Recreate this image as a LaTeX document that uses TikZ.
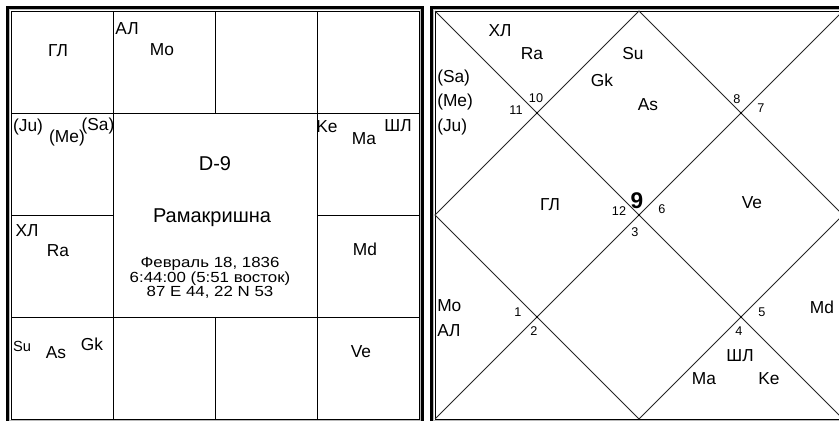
\documentclass[tikz,border=0pt]{standalone}
\usepackage{fontspec}
\setmainfont{Liberation Sans}
\newfontfamily\widesans{Liberation Sans}[FakeStretch=1.15]
\usetikzlibrary{positioning, calc}

\begin{document}
\begin{tikzpicture}[
    x=0.75pt, y=-0.75pt,
    every node/.style={inner sep=0pt, align=center},
    pl/.style={font=\fontsize{13}{15}\selectfont},
    plsm/.style={font=\fontsize{11}{13}\selectfont},
    hnum/.style={font=\fontsize{9.5}{11}\selectfont},
    title/.style={font=\fontsize{15}{18}\selectfont},
    info/.style={font=\widesans\fontsize{11}{10.2}\selectfont},
    outframe/.style={line width=2pt},
    midframe/.style={gray!55, line width=1pt},
    gridline/.style={line width=0.75pt},
    diagline/.style={line width=0.75pt, black!85}
]
    \clip (0,0) rectangle (839,421);
    \fill[white] (0,0) rectangle (839,421);

    % Left chart: D-9 square
    \coordinate (a1) at (11,11);
    \coordinate (a2) at (419,419);
    \draw[outframe] ($(a1)+(-3.3,-3.3)$) rectangle ($(a2)+(3.3,3.3)$);
    \draw[midframe] ($(a1)+(-1.4,-1.4)$) rectangle ($(a2)+(1.4,1.4)$);
    \draw[gridline] (a1) rectangle (a2);
    \foreach \k in {113,317} {
        \draw[gridline] (\k,11) -- (\k,419);
        \draw[gridline] (11,\k) -- (419,\k);
    }
    \draw[gridline] (215,11) -- (215,113);
    \draw[gridline] (215,317) -- (215,419);
    \draw[gridline] (11,215) -- (113,215);
    \draw[gridline] (317,215) -- (419,215);

    % Left chart labels
    \node[pl] (gl1) at (58,51) {ГЛ};
    \node[pl] (al1) at (127,29) {АЛ};
    \node[pl] (mo1) at (162,50) {Mo};
    \node[pl] (ju1) at (28,127) {(Ju)};
    \node[pl] (me1) at (67,138) {(Me)};
    \node[pl] (sa1) at (98,126) {(Sa)};
    \node[pl] (ke1) at (327,127) {Ke};
    \node[pl] (ma1) at (364,139) {Ma};
    \node[pl] (shl1) at (398,126) {ШЛ};
    \node[pl] (hl1) at (27,231) {ХЛ};
    \node[pl] (ra1) at (58,251) {Ra};
    \node[pl] (md1) at (365,249) {Md};
    \node[plsm] (su1) at (22,346) {Su};
    \node[pl] (as1) at (56,353) {As};
    \node[pl] (gk1) at (92,344) {Gk};
    \node[pl] (ve1) at (361,352) {Ve};

    % Centre block
    \node[title] (dvar) at (215,164) {D-9};
    \node[title] (name) at (212,218) {Рамакришна};
    \node[info] (birth) at (210,278) {Февраль 18, 1836\\6:44:00 (5:51 восток)\\87 E 44, 22 N 53};

    % Right chart: diamond
    \coordinate (b1) at (435,11);
    \coordinate (b2) at (843,419);
    \coordinate (b3) at (843,11);
    \coordinate (b4) at (435,419);
    \draw[outframe] ($(b1)+(-3.3,-3.3)$) rectangle ($(b2)+(3.3,3.3)$);
    \draw[midframe] ($(b1)+(-1.4,-1.4)$) rectangle ($(b2)+(1.4,1.4)$);
    \draw[gridline] (b1) rectangle (b2);
    \draw[diagline] (b1) -- (b2);
    \draw[diagline] (b3) -- (b4);
    \draw[diagline] (639,11) -- (843,215) -- (639,419) -- (435,215) -- cycle;
    \foreach \p in {(537,113),(741,113),(537,317),(741,317),(639,215)}
        \fill \p circle (1.2);

    % House numbers
    \node[hnum] (h10) at (536,98) {10};
    \node[hnum] (h11) at (516,110) {11};
    \node[hnum] (h8) at (737,99) {8};
    \node[hnum] (h7) at (761,108) {7};
    \node[hnum] (h12) at (619,211) {12};
    \node[hnum] (h6) at (662,209) {6};
    \node[hnum] (h3) at (635,232) {3};
    \node[hnum] (h1) at (518,312) {1};
    \node[hnum] (h2) at (534,331) {2};
    \node[hnum] (h5) at (762,312) {5};
    \node[hnum] (h4) at (739,331) {4};
    \node[font=\fontsize{17}{20}\selectfont\bfseries] (h9) at (637,201) {9};

    % Right chart labels
    \node[pl] (hl2) at (500,31) {ХЛ};
    \node[pl] (ra2) at (532,54) {Ra};
    \node[pl] (su2) at (633,54) {Su};
    \node[pl] (gk2) at (602,80) {Gk};
    \node[pl] (as2) at (648,105) {As};
    \node[pl, anchor=west] (sa2) at (437,78) {(Sa)};
    \node[pl, anchor=west] (me2) at (437,102) {(Me)};
    \node[pl, anchor=west] (ju2) at (437,127) {(Ju)};
    \node[pl] (gl2) at (550,205) {ГЛ};
    \node[pl] (ve2) at (752,203) {Ve};
    \node[pl, anchor=west] (mo2) at (437,306) {Mo};
    \node[pl, anchor=west] (al2) at (437,331) {АЛ};
    \node[pl] (md2) at (822,307) {Md};
    \node[pl] (shl2) at (740,356) {ШЛ};
    \node[pl] (ma2) at (704,379) {Ma};
    \node[pl] (ke2) at (769,379) {Ke};
\end{tikzpicture}
\end{document}
